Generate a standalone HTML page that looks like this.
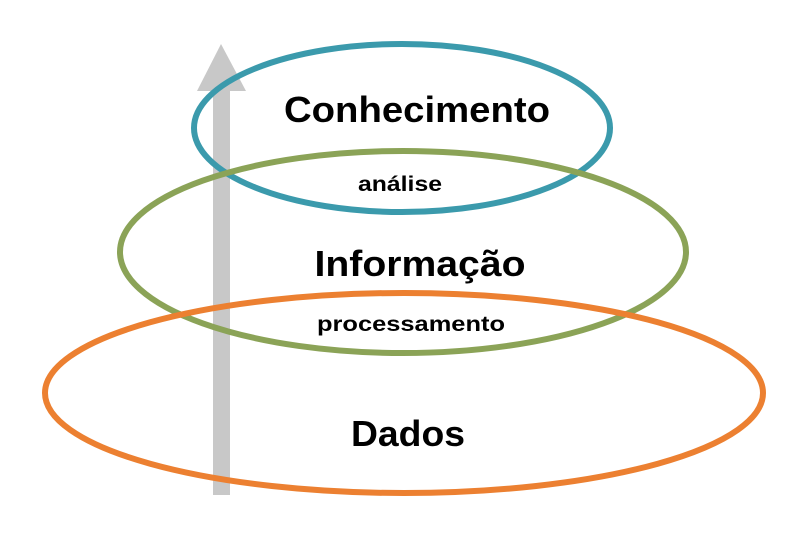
<!DOCTYPE html>
<html><head><meta charset="utf-8"><style>html,body{margin:0;padding:0;background:#fff}</style></head>
<body>
<svg width="810" height="540" xmlns="http://www.w3.org/2000/svg" style="display:block">
<rect width="810" height="540" fill="#fff"/>
<rect x="213" y="88" width="17" height="407" fill="#c8c8c8"/>
<polygon points="221,44 197,91 246,91" fill="#c8c8c8"/>
<ellipse cx="402" cy="128" rx="208" ry="84" fill="none" stroke="#3b9aac" stroke-width="6"/>
<ellipse cx="403" cy="252" rx="283" ry="101" fill="none" stroke="#8ba357" stroke-width="6"/>
<ellipse cx="404" cy="393" rx="359" ry="100" fill="none" stroke="#ec8031" stroke-width="6"/>
<g font-family="Liberation Sans, sans-serif" font-weight="bold" fill="#000" text-anchor="middle">
<text x="417" y="122" font-size="36" textLength="266" lengthAdjust="spacingAndGlyphs">Conhecimento</text>
<text x="400" y="191" font-size="21" textLength="84" lengthAdjust="spacingAndGlyphs">análise</text>
<text x="420" y="276" font-size="36" textLength="211" lengthAdjust="spacingAndGlyphs">Informação</text>
<text x="411" y="331" font-size="21" textLength="188" lengthAdjust="spacingAndGlyphs">processamento</text>
<text x="408" y="446" font-size="36" textLength="114" lengthAdjust="spacingAndGlyphs">Dados</text>
</g>
</svg>
</body></html>
